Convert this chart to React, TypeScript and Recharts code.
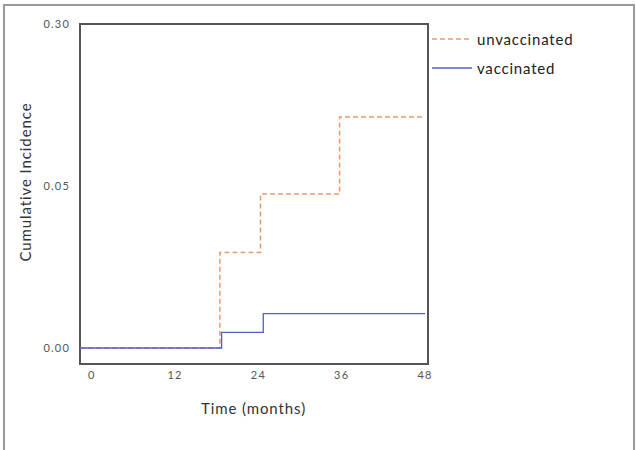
import React from "react";
import { LineChart, Line, XAxis, YAxis } from "recharts";

// unvaccinated cohort (step times in months, cumulative incidence);
// the curves start a little left of month 0, at the frame edge
const unvaxTimes = [-1.7, 18.45, 24.3, 35.7, 48];
const unvaxValues = [0, 0.0295, 0.0475, 0.0713, 0.0713];

// vaccinated cohort
const vaxTimes = [-1.7, 18.7, 24.7, 48];
const vaxValues = [0, 0.0048, 0.0106, 0.0106];

const xTicks = [0, 12, 24, 36, 48];
const yTicks = [0, 0.05, 0.1];
const yTickLabels = ["0.00", "0.05", "0.30"];

const unvaxData = unvaxTimes.map((t, i) => ({ t, v: unvaxValues[i] }));
const vaxData = vaxTimes.map((t, i) => ({ t, v: vaxValues[i] }));

const FONT = "Lato, 'Open Sans', sans-serif";
const ORANGE = "#e59b6c";
const BLUE = "#4f5fc6";

function LegendBox() {
  const items = [
    { name: "unvaccinated", color: ORANGE, dash: "5 3" },
    { name: "vaccinated", color: BLUE, dash: undefined },
  ];
  return (
    <div style={{ fontFamily: FONT, fontSize: 15, letterSpacing: 0.8, color: "#222" }}>
      {items.map((it) => (
        <div key={it.name} style={{ display: "flex", alignItems: "center", height: 29 }}>
          <svg width={42} height={10} style={{ marginRight: 3 }}>
            <line x1={0} y1={5} x2={40} y2={5} stroke={it.color} strokeWidth={1.5} strokeDasharray={it.dash} />
          </svg>
          <span>{it.name}</span>
        </div>
      ))}
    </div>
  );
}

export default function App() {
  return (
    <div style={{ position: "absolute", left: 0, top: 0, width: 636, height: 450, background: "#fff", overflow: "hidden" }}>
      {/* outer figure border */}
      <div style={{ position: "absolute", left: 3, top: 4, width: 628, height: 460, border: "2px solid #9a9a9a" }} />
      {/* plot frame */}
      <div style={{ position: "absolute", left: 79, top: 23, width: 346, height: 338, border: "2px solid #555" }} />
      <div style={{ position: "absolute", left: 432, top: 24 }}>
        <LegendBox />
      </div>
      <div style={{ position: "absolute", left: 0, top: 0 }}>
        <LineChart width={636} height={450} margin={{ top: 24, right: 209, bottom: 57, left: 50 }}>
          <XAxis
            type="number"
            dataKey="t"
            domain={[-1.7, 48]}
            ticks={xTicks}
            padding={{ left: 0, right: 2 }}
            axisLine={false}
            tickLine={false}
            tickSize={0}
            tickMargin={8}
            height={30}
            tick={{ fontSize: 11, fill: "#555", fontFamily: FONT, letterSpacing: 1.2 }}
            label={{ value: "Time (months)", position: "bottom", offset: 10, fill: "#333", fontSize: 15, fontFamily: FONT, letterSpacing: 0.9 }}
          />
          <YAxis
            type="number"
            dataKey="v"
            domain={[0, 0.1]}
            ticks={yTicks}
            padding={{ top: 0, bottom: 15 }}
            axisLine={false}
            tickLine={false}
            tickSize={0}
            tickMargin={10}
            width={30}
            tickFormatter={(v: number) => yTickLabels[yTicks.indexOf(v)] ?? String(v)}
            tick={{ fontSize: 11, fill: "#555", fontFamily: FONT, letterSpacing: 1.2 }}
            label={{
              content: () => (
                <text x={25} y={182} transform="rotate(-90 25 182)" textAnchor="middle" dominantBaseline="central" fill="#333" fontSize={15} fontFamily={FONT} letterSpacing={0.9}>
                  Cumulative Incidence
                </text>
              ),
            }}
          />
          <Line
            data={unvaxData}
            dataKey="v"
            name="unvaccinated"
            type="stepAfter"
            stroke={ORANGE}
            strokeWidth={1.5}
            strokeDasharray="5 3"
            dot={false}
            isAnimationActive={false}
          />
          <Line
            data={vaxData}
            dataKey="v"
            name="vaccinated"
            type="stepAfter"
            stroke={BLUE}
            strokeWidth={1.3}
            dot={false}
            isAnimationActive={false}
          />
        </LineChart>
      </div>
    </div>
  );
}
